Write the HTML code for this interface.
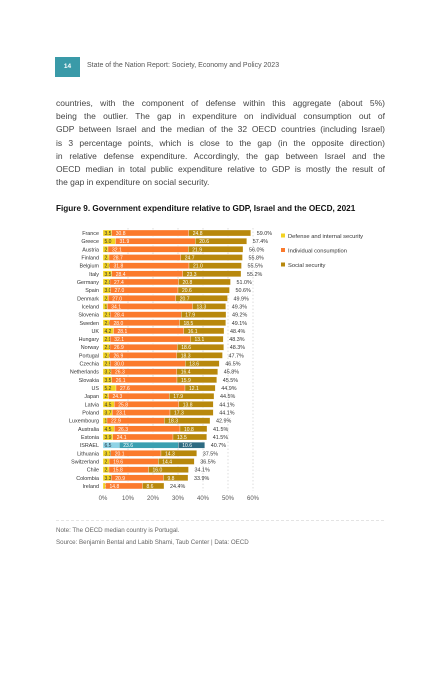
<!DOCTYPE html>
<html><head><meta charset="utf-8"><style>
body{margin:0;background:#fff;width:440px;height:681px;overflow:hidden;font-family:"Liberation Sans",sans-serif;position:relative}
.hdrbox{position:absolute;left:55px;top:57px;width:25px;height:20px;background:#3a9aa8;color:#fff;font-size:6.5px;font-weight:bold;text-align:center;line-height:20px}
.hdr{position:absolute;left:87px;top:62px;font-size:7px;color:#555}
.body{position:absolute;left:56px;top:97px;width:329px;font-size:8.5px;line-height:13.2px;color:#444}
.body div{white-space:nowrap;text-align:justify;text-align-last:justify}
.body div.last{text-align-last:left}
.title{position:absolute;left:56px;top:204px;font-size:8.2px;font-weight:bold;color:#111;white-space:nowrap}
.hr{position:absolute;left:56px;top:520px;width:328px;border-top:1px dashed #e4e4e4}
.note{position:absolute;left:56px;font-size:6.2px;color:#666}
</style></head><body>
<div class="hdrbox">14</div>
<div class="hdr">State of the Nation Report: Society, Economy and Policy 2023</div>
<div class="body">
<div>countries, with the component of defense within this aggregate (about 5%)</div>
<div>being the outlier. The gap in expenditure on individual consumption out of</div>
<div>GDP between Israel and the median of the 32 OECD countries (including Israel)</div>
<div>is 3 percentage points, which is close to the gap (in the opposite direction)</div>
<div>in relative defense expenditure. Accordingly, the gap between Israel and the</div>
<div>OECD median in total public expenditure relative to GDP is mostly the result of</div>
<div class="last">the gap in expenditure on social security.</div>
</div>
<div class="title">Figure 9. Government expenditure relative to GDP, Israel and the OECD, 2021</div>
<svg id="chart" style="position:absolute;left:0;top:0" width="440" height="520" font-family="Liberation Sans, sans-serif"></svg>
<div class="hr"></div>
<div class="note" style="top:527px">Note: The OECD median country is Portugal.</div>
<div class="note" style="top:539px">Source: Benjamin Bental and Labib Shami, Taub Center | Data: OECD</div>
<script>
const countries=["France","Greece","Austria","Finland","Belgium","Italy","Germany","Spain","Denmark","Iceland","Slovenia","Sweden","UK","Hungary","Norway","Portugal","Czechia","Netherlands","Slovakia","US","Japan","Latvia","Poland","Luxembourg","Australia","Estonia","ISRAEL","Lithuania","Switzerland","Chile","Colombia","Ireland"];
const defense=[3.5,5.0,2.0,2.4,2.6,3.5,2.8,3.0,2.1,1.7,2.9,2.6,4.2,2.9,2.8,2.6,2.9,3.2,3.5,5.2,2.2,4.5,3.7,1.6,4.5,3.9,6.5,3.1,2.5,2.4,3.3,1.0];
const individual=[30.8,31.9,32.1,28.7,31.8,28.4,27.4,27.0,27.0,34.1,28.4,28.0,28.1,32.1,26.9,26.9,30.0,26.3,26.1,27.6,24.3,25.8,23.1,22.9,26.3,24.1,23.6,20.1,19.6,15.8,20.9,14.8];
const social=[24.8,20.6,21.9,24.7,21.0,23.3,20.8,20.6,20.7,13.3,17.9,18.5,16.1,13.1,18.6,18.3,13.6,16.4,15.9,12.1,17.9,13.8,17.3,18.3,10.8,13.5,10.6,14.3,14.4,16.0,9.8,8.6];
const totals=["59.0%","57.4%","56.0%","55.8%","55.5%","55.2%","51.0%","50.6%","49.9%","49.3%","49.2%","49.1%","48.4%","48.3%","48.3%","47.7%","46.5%","45.8%","45.5%","44.9%","44.5%","44.1%","44.1%","42.9%","41.5%","41.5%","40.7%","37.5%","36.5%","34.1%","33.9%","24.4%"];
const ticks=[0,10,20,30,40,50,60];
const legendLabels=["Defense and internal security","Individual consumption","Social security"];
const svg=document.getElementById('chart');const NS="http://www.w3.org/2000/svg";
const x0=103,pxPer=2.5,y0=233,step=8.16,bh=6;
const X=v=>x0+v*pxPer;const Y=i=>y0+i*step;
function mk(t,a,txt){const e=document.createElementNS(NS,t);for(const k in a)e.setAttribute(k,a[k]);if(txt!=null)e.textContent=txt;svg.appendChild(e);return e;}
ticks.forEach(t=>{
 if(t>0){const g=mk('line',{x1:X(t),x2:X(t),y1:Y(0)-5,y2:Y(countries.length-1)+5,stroke:'#c8c8c8','stroke-width':0.6,'stroke-dasharray':'1.5,2'});
 
 }
 const l=mk('text',{x:X(t),y:500,'font-size':6,fill:'#555','text-anchor':'middle'},t+'%');
 
 
});
countries.forEach((c,i)=>{
 const cy=Y(i),isr=c==="ISRAEL";
 const lab=mk('text',{x:99,y:cy+2,'font-size':5.4,fill:'#333','text-anchor':'end'},c);
 
 
 const segs=[[defense[i],isr?'#8fd3e6':'#f3d321',isr?'#234':'#333'],[individual[i],isr?'#3a9fb0':'#fb7a2c','#fff'],[social[i],isr?'#2e6b82':'#b8880c','#fff']];
 let acc=0;
 segs.forEach((s,k)=>{
  const r=mk('rect',{x:X(acc),y:cy-bh/2,width:s[0]*pxPer,height:bh,fill:s[1],stroke:'#fff','stroke-width':0.3});
  
  
  const tx=k===0?X(acc)+1.5:X(acc)+4;
  const t=mk('text',{x:tx,y:cy+2,'font-size':5,fill:s[2]},s[0].toFixed(1));
  
  
  acc+=s[0];
 });
 const tt=mk('text',{x:X(acc)+6,y:cy+2,'font-size':5.4,fill:'#333'},totals[i]);
 
 
});
const lc=['#f3d321','#fb7a2c','#b8880c'];
legendLabels.forEach((l,i)=>{
 const ly=236+i*14.5;
 const r=mk('rect',{x:281,y:ly-2.5,width:4,height:4,fill:lc[i]});
 
 
 const t=mk('text',{x:288,y:ly+1.8,'font-size':5.8,fill:'#333'},l);
 
 
});
</script>
</body></html>
